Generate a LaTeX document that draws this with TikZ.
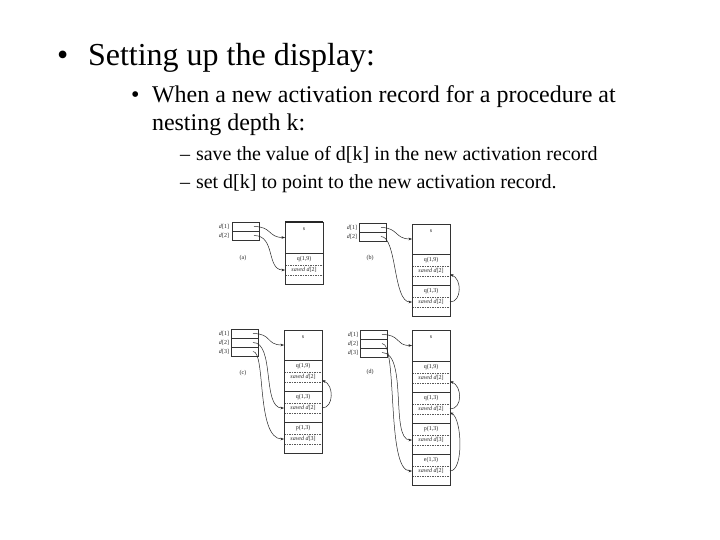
\documentclass[tikz,border=0pt]{standalone}
\usepackage{fontspec}
\setmainfont{Liberation Serif}
\usetikzlibrary{arrows.meta}
\tikzset{
  txt/.style={inner sep=0pt, outer sep=0pt, anchor=base west},
  dcell/.style={draw=black!80, line width=0.5pt, minimum width=27pt, minimum height=9pt, inner sep=0pt, outer sep=0pt, anchor=north west},
  dlab/.style={inner sep=0pt, outer sep=0pt, anchor=east, font=\fontsize{6}{7}\selectfont, text=black!85},
  row/.style={inner sep=0pt, outer sep=0pt, minimum width=38pt, anchor=north west, font=\fontsize{6}{7}\selectfont, text=black!85},
  sep/.style={draw=black!80, line width=0.6pt},
  dsep/.style={draw=black!65, line width=0.4pt, dash pattern=on 1.5pt off 1pt},
  ptr/.style={draw=black!85, line width=0.5pt, -{Stealth[length=3.5pt,width=2.6pt]}},
  capt/.style={inner sep=0pt, outer sep=0pt, font=\fontsize{6}{7}\selectfont, text=black!85}
}
\newcommand\mkrec[4]{%
  \node[row, minimum height=12pt] (#1) at (#2.south west) {#3};
  \node[row, minimum height=10pt] (#1s) at (#1.south west) {#4};
  \node[row, minimum height=9pt] (#1g) at (#1s.south west) {};
  \draw[sep] (#2.south west) -- (#2.south east);
  \draw[dsep] (#1.south west) -- (#1.south east);
  \draw[dsep] (#1s.south west) -- (#1s.south east);
}
\newcommand\sv[1]{\textit{saved d}[#1]}
\begin{document}
\begin{tikzpicture}[x=1pt,y=-1pt]
\useasboundingbox (0,0) rectangle (720,540);
\fill[white] (0,0) rectangle (720,540);

% ---------- text ----------
\node[txt, font=\fontsize{32}{38}\selectfont] (b1) at (57,66) {•};
\node[txt, font=\fontsize{32}{38}\selectfont] (t1) at (88,66) {Setting up the display:};
\node[txt, font=\fontsize{24}{28}\selectfont] (b2) at (131,103) {•};
\node[txt, font=\fontsize{24}{28}\selectfont] (t2) at (152,103) {When a new activation record for a procedure at};
\node[txt, font=\fontsize{24}{28}\selectfont] (t3) at (152,131) {nesting depth k:};
\node[txt, font=\fontsize{20}{24}\selectfont] (b3) at (180,161) {–};
\node[txt, font=\fontsize{20}{24}\selectfont] (t4) at (196,161) {save the value of d[k] in the new activation record};
\node[txt, font=\fontsize{20}{24}\selectfont] (b4) at (180,189) {–};
\node[txt, font=\fontsize{20}{24}\selectfont] (t5) at (196,189) {set d[k] to point to the new activation record.};

% ---------- panel (a) ----------
\node[dcell] (ad1) at (232,222) {};
\node[dcell] (ad2) at (ad1.south west) {};
\node[dlab] (ad1l) at ([xshift=-3pt]ad1.west) {\textit{d}[1]};
\node[dlab] (ad2l) at ([xshift=-3pt]ad2.west) {\textit{d}[2]};
\node[capt] (acap) at (243,258) {(a)};
\node[row, minimum height=31pt] (as) at (285,222) {};
\node[capt] (asl) at ([yshift=-7pt]as.north) {s};
\mkrec{aq}{as}{q(1,9)}{\sv{2}}
\draw[sep] (as.north west) rectangle (aqg.south east);
\draw[draw=black!85, line width=1.3pt] (as.north west) -- (as.north east);
\draw[ptr] ([xshift=-5pt]ad1.east) .. controls +(18,0) and +(-17,0) .. (as.west);
\draw[ptr] ([xshift=-5pt]ad2.east) .. controls +(22,0) and +(-19,0) .. (aqs.west);

% ---------- panel (b) ----------
\node[dcell] (bd1) at (359,223) {};
\node[dcell] (bd2) at (bd1.south west) {};
\node[dlab] (bd1l) at ([xshift=-2pt]bd1.west) {\textit{d}[1]};
\node[dlab] (bd2l) at ([xshift=-2pt]bd2.west) {\textit{d}[2]};
\node[capt] (bcap) at (370,258) {(b)};
\node[row, minimum height=30pt] (bs) at (412,224) {};
\node[capt] (bsl) at ([yshift=-7pt]bs.north) {s};
\mkrec{bq}{bs}{q(1,9)}{\sv{2}}
\mkrec{bqq}{bqg}{q(1,3)}{\sv{2}}
\draw[sep] (bs.north west) rectangle (bqqg.south east);
\draw[ptr] ([xshift=-5pt]bd1.east) .. controls +(17,0) and +(-17,0) .. (bs.west);
\draw[ptr] ([xshift=-5pt]bd2.east) .. controls +(16,0) and +(-19,0) .. (bqqs.west);
\draw[ptr] (bqqs.east) .. controls +(12,0) and +(12,4) .. ([yshift=-3.5pt]bqs.east);

% ---------- panel (c) ----------
\node[dcell] (cd1) at (231,329) {};
\node[dcell] (cd2) at (cd1.south west) {};
\node[dcell] (cd3) at (cd2.south west) {};
\node[dlab] (cd1l) at ([xshift=-2pt]cd1.west) {\textit{d}[1]};
\node[dlab] (cd2l) at ([xshift=-2pt]cd2.west) {\textit{d}[2]};
\node[dlab] (cd3l) at ([xshift=-2pt]cd3.west) {\textit{d}[3]};
\node[capt] (ccap) at (243,373) {(c)};
\node[row, minimum height=30pt] (cs) at (284,330) {};
\node[capt] (csl) at ([yshift=-7pt]cs.north) {s};
\mkrec{cq}{cs}{q(1,9)}{\sv{2}}
\mkrec{cqq}{cqg}{q(1,3)}{\sv{2}}
\mkrec{cp}{cqqg}{p(1,3)}{\sv{3}}
\draw[sep] (cs.north west) rectangle (cpg.south east);
\draw[ptr] ([xshift=-5pt]cd1.east) .. controls +(19,0) and +(-18,0) .. (cs.west);
\draw[ptr] ([xshift=-5pt]cd2.east) .. controls +(22,0) and +(-22,0) .. (cqqs.west);
\draw[ptr] ([xshift=-5pt]cd3.east) .. controls +(13,0) and +(-28,0) .. (cps.west);
\draw[ptr] (cqqs.east) .. controls +(12,0) and +(12,4) .. ([yshift=-3.5pt]cqs.east);

% ---------- panel (d) ----------
\node[dcell] (dd1) at (360,330) {};
\node[dcell] (dd2) at (dd1.south west) {};
\node[dcell] (dd3) at (dd2.south west) {};
\node[dlab] (dd1l) at ([xshift=-2pt]dd1.west) {\textit{d}[1]};
\node[dlab] (dd2l) at ([xshift=-2pt]dd2.west) {\textit{d}[2]};
\node[dlab] (dd3l) at ([xshift=-2pt]dd3.west) {\textit{d}[3]};
\node[capt] (dcap) at (370,372) {(d)};
\node[row, minimum height=31pt] (ds) at (412,330) {};
\node[capt] (dsl) at ([yshift=-7pt]ds.north) {s};
\mkrec{dq}{ds}{q(1,9)}{\sv{2}}
\mkrec{dqq}{dqg}{q(1,3)}{\sv{2}}
\mkrec{dp}{dqqg}{p(1,3)}{\sv{3}}
\mkrec{de}{dpg}{e(1,3)}{\sv{2}}
\draw[sep] (ds.north west) rectangle (deg.south east);
\draw[ptr] ([xshift=-5pt]dd1.east) .. controls +(19,0) and +(-17,0) .. (ds.west);
\draw[ptr] ([xshift=-5pt]dd2.east) .. controls +(16,0) and +(-26,0) .. (des.west);
\draw[ptr] ([xshift=-5pt]dd3.east) .. controls +(26,0) and +(-22,0) .. (dps.west);
\draw[ptr] (dqqs.east) .. controls +(13,0) and +(12,4) .. ([yshift=-3.5pt]dqs.east);
\draw[ptr] (des.east) .. controls +(14,0) and +(12,6) .. ([yshift=-3.5pt]dqqs.east);
\end{tikzpicture}
\end{document}
